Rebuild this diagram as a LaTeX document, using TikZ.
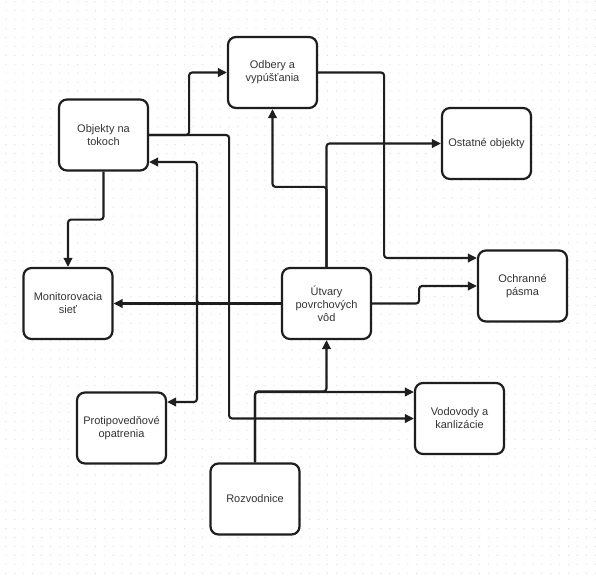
\documentclass[tikz,border=0pt]{standalone}
\usepackage{fontspec}
\setmainfont{Liberation Sans}
\usetikzlibrary{arrows.meta}
\definecolor{linecol}{HTML}{1E1E1E}
\definecolor{txtcol}{HTML}{333333}
\definecolor{dotcol}{HTML}{D9D9D9}
\tikzset{
  box/.style={draw=linecol, line width=2.2pt, rounded corners=8pt, fill=white,
    minimum width=89pt, minimum height=71pt, align=center, text=txtcol,
    font=\fontsize{11}{13}\selectfont, inner sep=2pt},
  conn/.style={draw=linecol, line width=2.1pt, rounded corners=3pt,
    -{Triangle[length=9pt,width=8.5pt]}},
}
\begin{document}
\begin{tikzpicture}[x=1pt,y=-1pt]
\useasboundingbox (0,0) rectangle (596,576);
\fill[white] (0,0) rectangle (596,576);
\foreach \i in {0,...,66}{
  \foreach \j in {0,...,64}{
    \fill[dotcol] (6+\i*8.93,1.7+\j*8.93) circle (0.6pt);
  }
}
% nodes
\node[box] (odb) at (272.5,72.5) {Odbery a\\vypúšťania};
\node[box] (obj) at (103.5,135) {Objekty na\\tokoch};
\node[box] (ost) at (486.5,143.5) {Ostatné objekty};
\node[box] (och) at (522.5,286) {Ochranné\\pásma};
\node[box] (utv) at (326.5,303.5) {Útvary\\povrchových\\vôd};
\node[box] (mon) at (68,303.5) {Monitorovacia\\sieť};
\node[box] (pro) at (121.5,428) {Protipovedňové\\opatrenia};
\node[box] (roz) at (255,499) {Rozvodnice};
\node[box] (vod) at (459.5,418.5) {Vodovody a\\kanlizácie};
% connectors
\draw[conn] (obj.east) -- ++(40,0) |- (odb.west);
\draw[conn] (obj.east) -- ++(80,0) |- (vod.west);
\draw[conn] (utv.west) -- (mon.east);
\draw[conn] (utv.west) -| (197,303.5) |- ([yshift=-27pt]obj.east);
\draw[conn] (utv.west) -| (197,303.5) |- ([yshift=26pt]pro.east);
\draw[conn] (utv.north) -- ++(0,-80) -| (odb.south);
\draw[conn] (utv.north) |- (ost.west);
\draw[conn] (odb.east) -- ++(66,0) |- ([yshift=28pt]och.west);
\draw[conn] (utv.east) -- ++(47,0) |- (och.west);
\draw[conn] (obj.south) -- ++(0,48) -| (mon.north);
\draw[conn] (roz.north) -- ++(0,-71) -| (utv.south);
\draw[conn] (roz.north) |- ([yshift=26.5pt]vod.west);
\end{tikzpicture}
\end{document}
